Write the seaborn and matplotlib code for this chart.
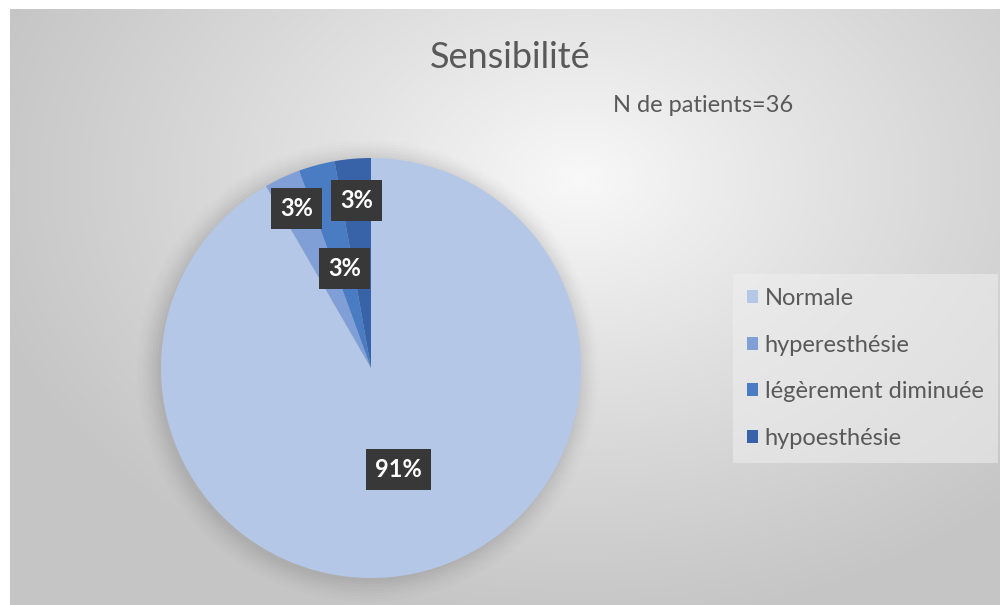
import numpy as np
import matplotlib
matplotlib.use("Agg")
import matplotlib.pyplot as plt
import seaborn as sns

sns.set_theme(style="white")
plt.rcParams['font.family'] = ['Lato', 'DejaVu Sans']

# Data
categories = ["Normale", "hyperesthésie", "légèrement diminuée", "hypoesthésie"]
patients = [33, 1, 1, 1]
pct_labels = ["91%", "3%", "3%", "3%"]
title_text = "Sensibilité"
subtitle_text = "N de patients=36"

colors = ["#B4C7E7", "#7F9FD6", "#4A7CC4", "#3863A8"]
label_dist = [0.50, 0.84, 0.49, 0.80]

W, H = 1000, 605
fig = plt.figure(figsize=(W / 100, H / 100), dpi=100)
fig.patch.set_facecolor("white")

# Radial grey background of the chart area
bg = fig.add_axes([10 / W, 0, 1 - 10 / W, 1 - 9 / H])
yy, xx = np.mgrid[0:596, 0:990]
d = np.sqrt(((xx - 570) / 620.0) ** 2 + ((yy - 170) / 450.0) ** 2)
d = np.clip(d, 0, 1)
val = (249 - 52 * d ** 0.9) / 255.0
bg.imshow(np.dstack([val, val, val]), aspect="auto", extent=[0, 1, 0, 1], origin="upper")
bg.set_axis_off()

# Pie
cx, cy, r = 371, 368, 210
m = 1.12
ax = fig.add_axes([(cx - r * m) / W, 1 - (cy + r * m) / H, 2 * r * m / W, 2 * r * m / H])
ax.set_axis_off()

# soft halo around the pie
for k, a in zip(np.linspace(1.10, 1.0, 8), np.linspace(0.015, 0.06, 8)):
    ax.add_patch(plt.Circle((-0.015, -0.015), k, color="#707070", alpha=a, lw=0, zorder=0))

wedges, _ = ax.pie(patients, colors=colors, startangle=90, counterclock=False,
                   radius=1.0, wedgeprops=dict(linewidth=0), frame=False)
for w in wedges:
    w.set_zorder(2)
ax.set_xlim(-m, m)
ax.set_ylim(-m, m)
ax.set_aspect("equal")

for w, lab, dist in zip(wedges, pct_labels, label_dist):
    ang = np.deg2rad((w.theta1 + w.theta2) / 2)
    ax.text(dist * np.cos(ang), dist * np.sin(ang), lab, ha="center", va="center",
            color="white", fontsize=17, fontweight="bold", zorder=5,
            bbox=dict(boxstyle="square,pad=0.38", facecolor="#383838", edgecolor="none"))

# Titles
fig.text(510 / W, 1 - 58 / H, title_text, ha="center", va="center",
         fontsize=26, color="#595959")
fig.text(613 / W, 1 - 106 / H, subtitle_text, ha="left", va="center",
         fontsize=17, color="#595959")

# Legend
leg = fig.legend(wedges, categories, loc="upper left",
                 bbox_to_anchor=(733 / W, 1 - 274 / H),
                 frameon=True, fontsize=17, labelcolor="#595959",
                 handlelength=0.45, handleheight=0.45, handletextpad=0.3,
                 labelspacing=1.08, borderpad=0.6, borderaxespad=0, fancybox=False)
leg.get_frame().set_facecolor("#EFEFEF")
leg.get_frame().set_alpha(0.55)
leg.get_frame().set_edgecolor("none")

fig.savefig("out.png", dpi=100)
